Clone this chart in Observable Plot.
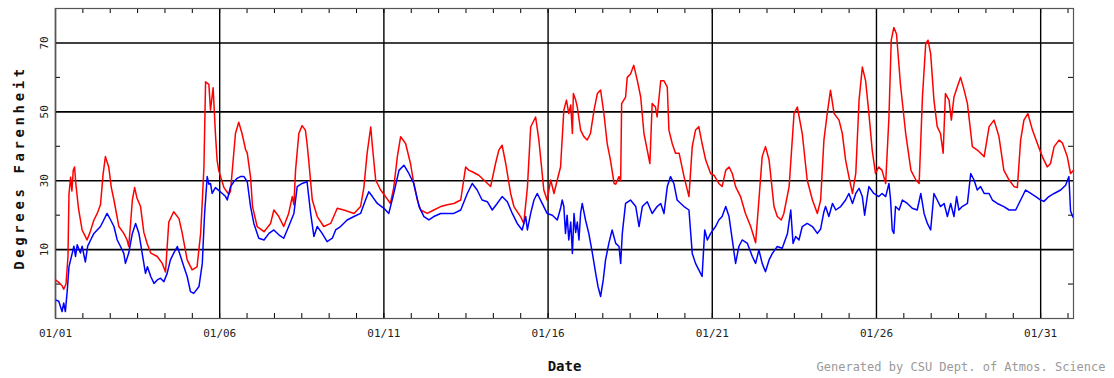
<!DOCTYPE html>
<html>
<head>
<meta charset="utf-8">
<script src="https://cdn.jsdelivr.net/npm/d3@7"></script>
<script src="https://cdn.jsdelivr.net/npm/@observablehq/plot@0.6"></script>
<style>
  html, body { margin: 0; padding: 0; background: #fff; }
  #chart { width: 1114px; height: 378px; }
</style>
</head>
<body>
<div id="chart"></div>
<script>
// ---- data (day offset since 01/01 00:00, degrees F) ----
const temperature = [
[0,1.2],[0.1,0.5],[0.2,-0.5],[0.25,-1.5],[0.32,0],[0.38,8],[0.41,26],[0.46,31],[0.5,27],[0.54,33],[0.58,34],[0.62,29],[0.7,22],[0.81,15.7],[0.9,14],[0.96,12.8],[1.05,15],[1.17,18.6],[1.27,20.5],[1.37,23],[1.45,32],[1.52,37],[1.62,34],[1.7,28],[1.78,24.4],[1.93,16.7],[2.08,14.7],[2.18,12.8],[2.23,10.9],[2.29,18],[2.34,24.4],[2.41,28],[2.48,25],[2.59,22.5],[2.69,15],[2.79,11.8],[2.9,9],[3.1,8],[3.25,6],[3.35,3.5],[3.45,18],[3.6,21],[3.76,19],[3.86,14.7],[4.01,7],[4.16,4.1],[4.31,5],[4.42,14.7],[4.47,24],[4.52,34],[4.57,58.7],[4.67,58],[4.72,50.5],[4.8,57],[4.87,43.7],[4.92,36],[4.97,33],[5.13,28],[5.28,26],[5.33,27],[5.48,43.7],[5.58,47],[5.68,43.7],[5.79,39],[5.84,38],[5.94,31],[6.0,22.5],[6.14,16.7],[6.35,15.2],[6.55,17.6],[6.65,21.5],[6.8,19.6],[6.95,16.7],[7.1,20.5],[7.21,25.4],[7.26,23],[7.31,33],[7.41,43.7],[7.51,46],[7.61,44.7],[7.66,40.8],[7.71,36],[7.82,24.4],[7.97,19.6],[8.17,16.7],[8.38,17.6],[8.58,22],[8.78,21.5],[9.09,20.5],[9.29,22.5],[9.39,28],[9.49,38],[9.6,45.6],[9.65,40],[9.75,30.2],[9.9,27.3],[10.05,25.4],[10.2,23.4],[10.3,28],[10.41,37],[10.51,42.8],[10.66,40.8],[10.81,35],[10.91,29.2],[11.02,24.4],[11.12,21.5],[11.32,20.5],[11.52,21.5],[11.73,22.5],[11.93,23],[12.13,23.4],[12.34,24.4],[12.49,34],[12.59,33],[12.69,32.6],[12.89,31.6],[13.1,29.7],[13.25,28.3],[13.4,35],[13.5,38.9],[13.6,40.3],[13.71,35],[13.86,26.3],[13.96,22.5],[14.16,19.6],[14.26,17.6],[14.37,28],[14.47,45.6],[14.62,48.5],[14.72,41.8],[14.87,27.3],[14.97,24.4],[15.08,30.2],[15.18,26.3],[15.3,31],[15.38,34],[15.48,50.5],[15.56,53.4],[15.63,49.5],[15.69,52],[15.74,43.7],[15.77,55.3],[15.84,53.4],[15.89,51.4],[15.99,44.7],[16.09,42.8],[16.19,41.8],[16.29,43.7],[16.4,50.5],[16.5,55.3],[16.6,56.3],[16.7,49.5],[16.8,40.8],[16.9,36],[17.01,29.2],[17.06,29],[17.16,31.2],[17.21,30],[17.24,52.4],[17.36,54.3],[17.41,60],[17.51,61],[17.61,63.5],[17.72,59],[17.82,54.3],[17.92,43.7],[18.02,38.9],[18.1,35],[18.17,52.4],[18.27,51.4],[18.32,48.5],[18.43,59],[18.53,59],[18.63,57.2],[18.68,44.7],[18.78,40.8],[18.88,38],[18.99,38],[19.14,31.2],[19.29,25.4],[19.39,39.9],[19.49,44.7],[19.59,45.7],[19.69,40.8],[19.8,36],[19.95,32.1],[20.05,31.6],[20.2,29.2],[20.3,28.3],[20.41,33],[20.51,34],[20.61,32.1],[20.71,28.3],[20.86,25.4],[21.01,20.5],[21.17,16.7],[21.32,12],[21.42,24.4],[21.52,37],[21.62,39.9],[21.73,36],[21.88,22.5],[21.98,19.6],[22.1,18.6],[22.18,20.5],[22.34,28.3],[22.49,49.5],[22.59,51.4],[22.74,43.7],[22.89,30.2],[23.05,24.4],[23.2,20.5],[23.3,24.4],[23.4,41.8],[23.5,49.5],[23.6,56.3],[23.71,49.5],[23.86,47.6],[23.96,43.7],[24.06,36],[24.16,31.2],[24.27,26.3],[24.37,32.1],[24.47,53.4],[24.57,63],[24.67,59],[24.77,49.5],[24.87,38.9],[24.97,32.1],[25.07,34],[25.17,33],[25.28,29.2],[25.38,48.5],[25.45,70.8],[25.53,74.5],[25.61,72.6],[25.73,58],[25.89,43.7],[26.05,33],[26.2,30.2],[26.3,29.2],[26.4,54.3],[26.5,69.8],[26.57,70.8],[26.65,66.9],[26.75,53.4],[26.85,45.7],[26.95,43.7],[27.03,38],[27.1,55.3],[27.21,53.4],[27.28,47.6],[27.36,54.3],[27.46,57.2],[27.56,60],[27.67,56.3],[27.77,52.4],[27.92,39.9],[28.07,38.9],[28.28,37],[28.43,45.7],[28.58,47.6],[28.73,42.8],[28.88,33],[29.04,30.2],[29.19,28.3],[29.29,28],[29.39,41.8],[29.49,47.6],[29.61,49.5],[29.75,44.7],[29.9,40.8],[30.05,37],[30.2,34],[30.3,35],[30.41,39.9],[30.56,41.8],[30.66,41],[30.81,37],[30.91,32.1],[31.0,33]
];
const dewPoint = [
[0,-4.6],[0.1,-5],[0.15,-6.5],[0.2,-8],[0.25,-5.5],[0.3,-8],[0.36,-1.7],[0.41,5],[0.51,9],[0.56,11],[0.61,8],[0.66,11.4],[0.76,9],[0.81,11],[0.91,6.4],[0.98,11],[1.07,12.8],[1.17,14.7],[1.27,15.7],[1.37,16.7],[1.47,18.6],[1.57,20.5],[1.68,18.6],[1.78,16.7],[1.88,12.8],[1.98,10.9],[2.08,8.9],[2.13,6],[2.23,9],[2.34,14.7],[2.44,17.6],[2.54,14.7],[2.64,8.9],[2.74,3.1],[2.8,5],[2.9,2.2],[3.0,0.2],[3.1,1.2],[3.2,1.7],[3.3,0.7],[3.4,3.1],[3.5,7],[3.6,9],[3.71,10.9],[3.81,8],[3.91,5],[4.01,2.2],[4.11,-2.2],[4.21,-2.7],[4.37,-0.7],[4.47,6],[4.54,20.5],[4.62,31.2],[4.67,29],[4.72,29.2],[4.77,26.3],[4.87,28],[4.97,27.2],[5.08,26.3],[5.18,25.4],[5.23,24.4],[5.33,28.3],[5.43,29.7],[5.53,30.7],[5.63,31.2],[5.74,31.2],[5.84,29.7],[5.94,22.5],[6.04,17.6],[6.19,13.3],[6.35,12.8],[6.5,14.7],[6.65,15.7],[6.8,14.3],[6.95,13.3],[7.1,16.7],[7.26,20.5],[7.36,28.3],[7.51,29.2],[7.66,29.7],[7.77,20.5],[7.87,13.8],[7.97,16.7],[8.12,14.7],[8.27,12.3],[8.43,13.3],[8.53,15.7],[8.68,16.7],[8.88,18.6],[9.09,19.6],[9.29,20.5],[9.44,24.4],[9.54,26.8],[9.65,25.4],[9.8,23.4],[10.0,22],[10.15,20.5],[10.3,26.3],[10.46,33],[10.61,34.5],[10.76,32.1],[10.91,29.2],[11.07,22.5],[11.22,19.6],[11.37,18.6],[11.52,19.6],[11.73,20.5],[11.93,20.5],[12.13,20.5],[12.34,21.5],[12.54,26.3],[12.69,29.2],[12.84,27.3],[12.99,24.4],[13.15,23.9],[13.3,21.5],[13.45,23.4],[13.6,25.4],[13.76,23.9],[13.91,20.5],[14.06,17.6],[14.21,15.7],[14.32,19.6],[14.37,15.7],[14.47,20.5],[14.57,24.4],[14.67,26.3],[14.82,23.4],[14.97,20.5],[15.13,20],[15.28,18.6],[15.38,22],[15.43,24.4],[15.48,22.5],[15.53,14.7],[15.58,20],[15.63,12.8],[15.69,18],[15.74,8.9],[15.79,20.5],[15.84,15],[15.89,18],[15.94,12.8],[15.99,20.5],[16.04,23.4],[16.14,18.6],[16.24,14.7],[16.35,8.9],[16.45,3.1],[16.52,-0.7],[16.6,-3.6],[16.68,1.2],[16.75,7],[16.85,11.8],[16.95,15.7],[17.06,11.8],[17.16,10.9],[17.21,6],[17.26,14.7],[17.36,23.4],[17.51,24.4],[17.67,22.5],[17.77,16.7],[17.87,22.5],[18.02,23.9],[18.17,20.5],[18.32,22.5],[18.43,23.4],[18.53,20.5],[18.63,28.3],[18.73,31.2],[18.83,29.2],[18.93,24.4],[19.04,23.4],[19.14,22.5],[19.29,21.5],[19.39,8.9],[19.49,6],[19.59,4.1],[19.69,2.2],[19.77,15.7],[19.85,12.8],[19.95,14.7],[20.1,16.7],[20.2,18.6],[20.3,19.6],[20.41,22.5],[20.51,19.6],[20.61,12.8],[20.71,6],[20.81,10.9],[20.91,12.8],[21.07,11.8],[21.22,8],[21.32,6],[21.42,9.9],[21.52,6],[21.62,3.6],[21.73,7],[21.83,8.9],[21.98,10.9],[22.13,10.4],[22.29,14.7],[22.39,21.5],[22.46,11.8],[22.54,13.8],[22.64,12.8],[22.74,16.7],[22.89,17.6],[23.05,16.7],[23.2,14.7],[23.3,16],[23.4,21],[23.45,22.5],[23.55,19.6],[23.66,23.4],[23.76,21.5],[23.91,22.5],[24.06,24.4],[24.16,26.3],[24.27,23.4],[24.37,26.3],[24.47,27.8],[24.57,25.4],[24.64,20],[24.72,25.4],[24.77,28.3],[24.92,26.3],[25.07,25.4],[25.17,26.3],[25.28,25.4],[25.38,29.2],[25.43,24.4],[25.48,15.7],[25.53,14.7],[25.58,22.5],[25.69,21.5],[25.79,24.4],[25.94,23.4],[26.09,22],[26.24,21.5],[26.35,26.3],[26.45,20.5],[26.55,17.6],[26.65,15.7],[26.75,26.3],[26.85,24.4],[26.95,22.5],[27.06,23.4],[27.16,19.6],[27.26,23.4],[27.36,19.6],[27.44,25.4],[27.51,21.5],[27.61,22.5],[27.77,23.4],[27.87,32.1],[27.97,30.2],[28.07,27.3],[28.17,28.3],[28.28,26.3],[28.43,26.3],[28.53,24.4],[28.68,23.4],[28.88,22.5],[29.04,21.5],[29.24,21.5],[29.39,24.4],[29.54,27.3],[29.7,26.3],[29.85,25.4],[30.0,24.4],[30.1,24],[30.25,25.4],[30.41,26.3],[30.61,27.3],[30.76,28.7],[30.86,31.2],[30.91,21.2],[30.98,19.5]
];
const labelDays = [0, 5, 10, 15, 20, 25, 30];          // 01/01 ... 01/31
const minorTickHours = d3.range(0, 744, 20);            // minor ticks every 20 h
const yGridValues = [10, 30, 50, 70];
const yMinorValues = [0, 20, 40, 60];
const xDomainDays = [0, 31];
const yDomain = [-10, 80];
const yTitle = "Degrees Farenheit";
const xTitle = "Date";
const caption = "Generated by CSU Dept. of Atmos. Science";

// ---- helpers ----
const t0 = Date.UTC(2024, 0, 1);
const dayToDate = d => new Date(t0 + d * 864e5);
const fmt = d3.utcFormat("%m/%d");
const labelDates = labelDays.map(dayToDate);
const minorDates = minorTickHours.map(h => dayToDate(h / 24));

const chart = Plot.plot({
  width: 1114,
  height: 378,
  marginLeft: 55,
  marginRight: 41,
  marginTop: 8,
  marginBottom: 60,
  style: { fontFamily: "'DejaVu Sans Mono', monospace", background: "#fff", color: "#000" },
  x: { type: "utc", domain: xDomainDays.map(dayToDate), axis: null },
  y: { domain: yDomain, axis: null },
  marks: [
    Plot.ruleY(yGridValues, { stroke: "#000", strokeWidth: 1.6 }),
    Plot.ruleX(labelDates, { stroke: "#000", strokeWidth: 1.4 }),
    Plot.tickX(minorDates, { x: d => d, insetTop: 305, stroke: "#000" }),
    Plot.tickX(minorDates, { x: d => d, insetBottom: 305, stroke: "#000" }),
    Plot.tickY(yMinorValues, { y: d => d, insetRight: 1013, stroke: "#000" }),
    Plot.tickY(yMinorValues, { y: d => d, insetLeft: 1013, stroke: "#000" }),
    Plot.line(temperature, { x: d => dayToDate(d[0]), y: d => d[1], stroke: "#ff0000", strokeWidth: 1.5 }),
    Plot.line(dewPoint, { x: d => dayToDate(d[0]), y: d => d[1], stroke: "#0000ff", strokeWidth: 1.5 }),
    Plot.frame({ stroke: "#555", strokeWidth: 1.2 }),
    Plot.text(labelDates, { x: d => d, text: d => fmt(d), frameAnchor: "bottom", dy: 18, fontSize: 11, fill: "#222" }),
    Plot.text(yGridValues, { y: d => d, text: d => String(d), frameAnchor: "left", textAnchor: "middle", dx: -11, rotate: -90, fontSize: 11, fill: "#222" }),
    Plot.text([yTitle], { text: d => d, frameAnchor: "left", textAnchor: "middle", dx: -36, dy: 4, rotate: -90, fontSize: 14, fontWeight: "bold", fill: "#111" }),
    Plot.text([xTitle], { text: d => d, frameAnchor: "bottom", dy: 52, fontSize: 14, fontWeight: "bold", fill: "#111" }),
    Plot.text([caption], { text: d => d, frameAnchor: "bottom-right", textAnchor: "end", dx: 32, dy: 52, fontSize: 12, fill: "#9a9a9a" })
  ]
});

d3.select(chart).selectAll("text")
  .filter(function () { return this.textContent === yTitle; })
  .attr("letter-spacing", 3.6);

document.getElementById("chart").appendChild(chart);
</script>
</body>
</html>
